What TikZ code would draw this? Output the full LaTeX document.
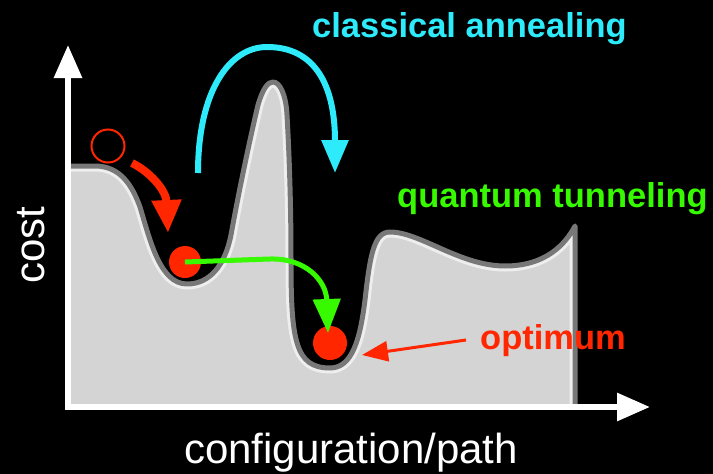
\documentclass[tikz,border=0pt]{standalone}
\usepackage{fontspec}
\setmainfont{Liberation Sans}
\usetikzlibrary{arrows.meta}
\definecolor{landfill}{RGB}{212,212,212}
\definecolor{rimdark}{RGB}{120,120,120}
\definecolor{rimlight}{RGB}{238,238,238}
\definecolor{hotred}{RGB}{255,38,0}
\definecolor{skycyan}{RGB}{45,235,250}
\definecolor{limegreen}{RGB}{55,250,0}
\tikzset{
  boldlbl/.style={font=\fontsize{34.5}{40}\selectfont\bfseries, inner sep=0pt},
  axislbl/.style={font=\fontsize{42}{48}\selectfont, inner sep=0pt, text=white},
  axisline/.style={white, line width=6pt, -{Triangle[length=33pt,width=27pt]}},
  ball/.style={circle, fill=hotred, inner sep=0pt},
}
\def\landtop{(68,166) -- (95,166) .. controls (120,166) and (132,185) .. (140,207)
  .. controls (150,240) and (160,284) .. (187,284)
  .. controls (210,284) and (225,265) .. (231,235)
  .. controls (240,185) and (252,130) .. (258,105)
  .. controls (263,88) and (268,82) .. (273,82)
  .. controls (280,82) and (286,95) .. (287,115)
  .. controls (289,150) and (291,200) .. (291,260)
  .. controls (291,340) and (295,368) .. (330,368)
  .. controls (352,368) and (360,340) .. (365,300)
  .. controls (370,255) and (374,232) .. (390,232)
  .. controls (420,232) and (460,266) .. (505,266)
  .. controls (545,266) and (565,245) .. (575,226)}
\begin{document}
\begin{tikzpicture}[x=1pt,y=-1pt]
\fill[black] (0,0) rectangle (713,474);
\useasboundingbox (0,0) rectangle (713,474);
% landscape
\begin{scope}
  \clip \landtop -- (575,404) -- (68,404) -- cycle;
  \fill[landfill] (0,0) rectangle (713,474);
  \draw[rimlight, line width=11pt] \landtop -- (575,404);
\end{scope}
\draw[rimdark, line width=5pt, line join=round] \landtop -- (575,404);
% axes
\coordinate (O) at (68,407);
\coordinate (ytip) at (68,45);
\coordinate (xtip) at (650,407);
\draw[axisline, line cap=rect] (O) -- (ytip);
\draw[axisline, line cap=rect] (O) -- (xtip);
% balls
\node[circle, draw=hotred, line width=2pt, minimum size=33pt, inner sep=0pt] (b0) at (108,146) {};
\node[ball, minimum size=32pt] (b1) at (185,262) {};
\node[ball, minimum size=34pt] (b2) at (330,343) {};
% classical annealing arrow
\coordinate (caS) at (198,173);
\coordinate (caE) at (335,173);
\draw[skycyan, line width=6pt, -{Triangle[length=33pt,width=26pt]}]
  (caS) .. controls (198,90) and (230,47) .. (267,47) .. controls (315,47) and (335,85) .. (caE);
% rolling arrow
\coordinate (rS) at (132,163);
\coordinate (rE) at (168,233);
\draw[hotred, line width=8pt, -{Triangle[length=33pt,width=28pt]}]
  (rS) .. controls (150,172) and (166,190) .. (rE);
% tunneling arrow
\coordinate (gE) at (328,333);
\draw[limegreen, line width=5pt, -{Triangle[length=34pt,width=27pt]}]
  (b1.center) -- (270,259) .. controls (305,258) and (326,280) .. (gE);
% optimum arrow
\coordinate (oS) at (466,340);
\coordinate (oE) at (362,355);
\draw[hotred, line width=3pt, -{Triangle[length=26pt,width=20pt]}] (oS) -- (oE);
% labels
\node[boldlbl, text=skycyan, anchor=base west] (tca) at (312,37) {classical annealing};
\node[boldlbl, text=limegreen, anchor=base west] (tqt) at (397,207) {quantum tunneling};
\node[boldlbl, text=hotred, anchor=base west] (topt) at (480,349) {optimum};
\node[axislbl, anchor=base] (tx) at (351,463) {configuration/path};
\node[axislbl, anchor=base, rotate=90] (ty) at (45,245) {cost};
\end{tikzpicture}
\end{document}
